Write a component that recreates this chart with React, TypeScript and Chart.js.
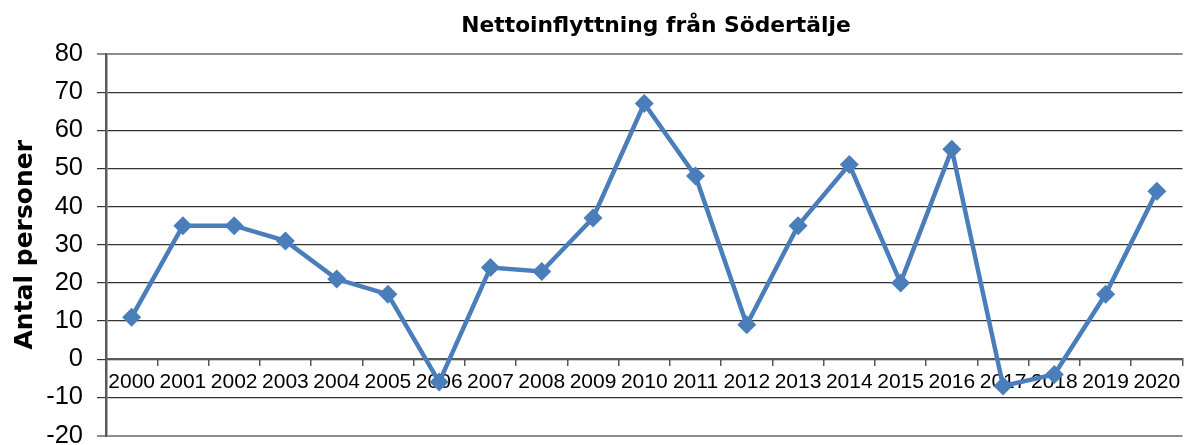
import React, { useEffect, useRef } from "react";
import { Chart, registerables } from "chart.js";

Chart.register(...registerables);

const chartTitle = "Nettoinflyttning från Södertälje";
const yAxisTitle = "Antal personer";
const years = [
  "2000", "2001", "2002", "2003", "2004", "2005", "2006", "2007", "2008", "2009", "2010",
  "2011", "2012", "2013", "2014", "2015", "2016", "2017", "2018", "2019", "2020",
];
const netMigration = [11, 35, 35, 31, 21, 17, -6, 24, 23, 37, 67, 48, 9, 35, 51, 20, 55, -7, -4, 17, 44];
const yMin = -20;
const yMax = 80;
const yStep = 10;

export default function App() {
  const ref = useRef<HTMLCanvasElement | null>(null);

  useEffect(() => {
    if (!ref.current) return;
    const titleShift = {
      id: "titleShift",
      afterLayout(chart: any) {
        const t = chart.titleBlock;
        if (t) {
          t.left = 121;
          t.width = t.right - t.left;
        }
      },
    };
    const edgeGrid = (v: number) => v === yMin || v === yMax;
    const chart = new Chart(ref.current, {
      type: "line",
      data: {
        labels: years,
        datasets: [
          {
            data: netMigration,
            borderColor: "#4A7EBB",
            backgroundColor: "#4A7EBB",
            borderWidth: 4.5,
            pointStyle: "rectRot",
            pointRadius: 9.5,
            pointBorderWidth: 0,
            pointBackgroundColor: "#4A7EBB",
            tension: 0,
          },
        ],
      },
      options: {
        animation: false,
        responsive: true,
        maintainAspectRatio: false,
        layout: { padding: { left: 0, right: 1, top: 0, bottom: 9 } },
        plugins: {
          legend: { display: false },
          tooltip: { enabled: false },
          title: {
            display: true,
            text: chartTitle,
            color: "#000",
            font: { family: "DejaVu Sans", weight: "bold", size: 21.8 },
            padding: { top: 13.7, bottom: 14.1 },
          },
        },
        scales: {
          x: {
            type: "category",
            position: { y: 0 } as any,
            offset: true,
            grid: {
              offset: true,
              drawOnChartArea: false,
              drawTicks: true,
              tickLength: 6,
              color: "#595959",
              lineWidth: 1.5,
            },
            border: { display: true, color: "#595959", width: 2 },
            ticks: {
              autoSkip: false,
              maxRotation: 0,
              minRotation: 0,
              padding: 4,
              color: "#000",
              font: { family: "Liberation Sans", size: 21 },
            },
            afterFit(s: any) {
              s.paddingLeft = 0;
              s.paddingRight = 0;
            },
          },
          y: {
            min: yMin,
            max: yMax,
            ticks: {
              stepSize: yStep,
              padding: 14,
              color: "#000",
              font: { family: "Liberation Sans", size: 25.5 },
            },
            grid: {
              color: (ctx: any) => (ctx.tick && edgeGrid(ctx.tick.value) ? "#8c8c8c" : "#333333"),
              lineWidth: (ctx: any) => (ctx.tick && edgeGrid(ctx.tick.value) ? 2 : 1.2),
              tickLength: 9,
            },
            border: { display: true, color: "#595959", width: 2.5 },
            title: {
              display: true,
              text: yAxisTitle,
              color: "#000",
              font: { family: "DejaVu Sans", weight: "bold", size: 25 },
              padding: { top: 10, bottom: 0 },
            },
            afterFit(s: any) {
              s.width = 106;
              s.paddingTop = 0;
              s.paddingBottom = 0;
            },
          },
        },
      },
      plugins: [titleShift],
    } as any);
    return () => chart.destroy();
  }, []);

  return (
    <div style={{ position: "absolute", left: 0, top: 0, width: 1192, height: 445 }}>
      <canvas ref={ref} />
    </div>
  );
}
